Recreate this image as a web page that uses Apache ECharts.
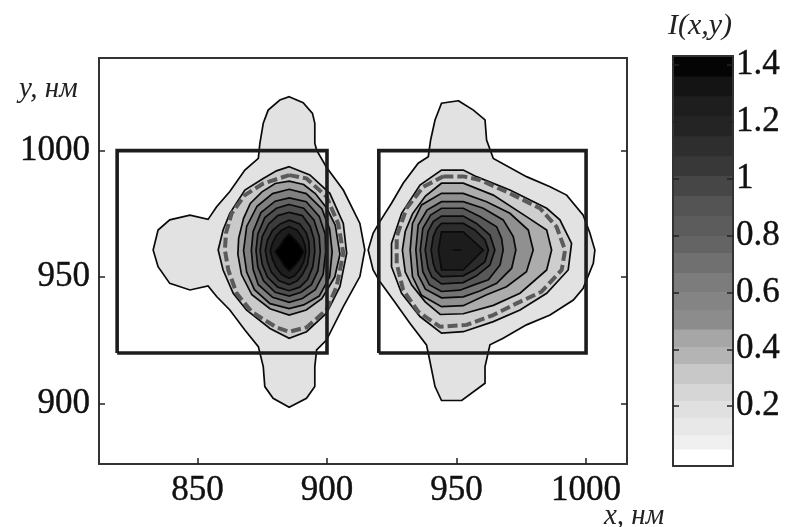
<!DOCTYPE html>
<html><head><meta charset="utf-8">
<style>html,body{margin:0;padding:0;background:#fff}#c{width:785px;height:527px}</style>
<script src="https://cdn.jsdelivr.net/npm/echarts@6/dist/echarts.min.js"></script>
</head><body><div id="c"></div>
<script>
const xTicks=[850,900,950,1000];
const yTicks=[900,950,1000];
const barTicks=[0.2,0.4,0.6,0.8,1,1.2,1.4];
const rectLeft=[[819,920],[900,920],[900,1000],[819,1000],[819,920]];
const rectRight=[[920,920],[1000,920],[1000,1000],[920,1000],[920,920]];

const leftOuter=[[885.4,1021.3],[890.8,1018.9],[894.4,1014.7],[895.3,1010.8],[895.3,1002.9],[896,1000.2],[899.8,993.4],[906.3,984.4],[912.7,971.2],[914.6,960.7],[912.7,950.2],[906.3,938.3],[899.8,925.1],[896,921.2],[895.3,914.6],[895.3,906.7],[892.1,902.1],[885.4,898.5],[879.2,902.1],[876,906.7],[875.4,914.6],[873.5,922.5],[868.3,929.1],[862.5,937],[857.4,942.3],[854.1,946.5],[847.1,944.9],[839.3,947.5],[834.8,954.1],[832.9,960.7],[834.8,968.6],[839.3,972.6],[847.1,974.5],[854.1,972.8],[857.4,977.8],[862.5,983.8],[868.3,992.3],[873.5,996.9],[874.1,1002.9],[875.4,1010.8],[877.3,1016],[881.8,1020]];
const leftA=[[885.4,993.6],[893.4,990.4],[901.1,983.1],[906.3,971.2],[907.6,959.4],[905,946.2],[899.8,935.7],[892.1,928.4],[885.4,925.8],[878,929.7],[868.9,937],[863.8,943.6],[859.9,952.8],[858,960.7],[859.9,968.6],[862.5,975.2],[868.3,984.4],[875.4,989],[880.5,992]];
const leftDash=[[885.4,990.3],[892.1,989],[899.8,981.8],[904.3,971.2],[906.3,959.4],[903.7,946.2],[899.8,937],[892.1,930.1],[885.4,928.4],[880.5,930.1],[870.9,936.3],[865.1,943.6],[861.9,952.8],[860.6,960.7],[861,967.3],[863.2,975.2],[868.3,982.4],[875.4,987]];
const left1=[[885.4,987.9],[891,986.6],[895.5,983],[900,977.1],[903.2,970.5],[905,959],[903,950],[898,941.5],[892,937],[885.4,935],[878,937.5],[871,943],[867,951],[865.6,959],[865.9,965.3],[867.8,973.2],[870.4,979.1],[874.9,983.7],[880,987]];
const left2=[[885.4,984.7],[892,983],[898,977],[901,969],[902,960],[901,950],[897,942.5],[891,939],[885.4,937.5],[878,939.5],[872,945],[869,952],[867.8,960.5],[869,970],[873,978],[879,983]];
const left3=[[885.4,981.3],[892,979.8],[897,974],[899.3,967],[899.5,960],[898.5,951],[895.5,945],[890.5,941.5],[885.4,940],[879,942],[873.5,947],[871.5,953],[870.8,960.5],[871.5,968],[874.5,975.5],[880,980]];
const left4=[[885.4,978.7],[891,977.2],[895,972.5],[897,966],[897.4,960],[896.5,952.5],[894,947],[890,944],[885.4,942.5],[880,944],[875.5,948.5],[873.3,954],[872.6,960.5],[873.3,967],[876,973.5],[880.5,977.2]];
const left5=[[885.4,975.6],[890.5,974.3],[893.5,970],[895,965],[895.3,960],[894.5,954],[892.5,949],[889.5,946],[885.4,944.6],[881,946],[877,950],[875,955],[874.2,960.5],[875,966],[877.5,971],[881,974.3]];
const left6=[[885.4,972.5],[889.5,971],[892,967.5],[893,964],[893.2,960],[892.5,955],[890.5,951],[888.5,948.5],[885.4,947],[881.5,948.5],[878.5,952],[877,956],[876.2,960.5],[877,964.5],[879,968.5],[882,971]];
const left7=[[885.4,970],[888.5,968.5],[890.5,965.5],[891.5,962.5],[891.8,960],[891,956],[889.5,953],[887.5,950.5],[885.4,949.5],[882.5,951],[880.3,954],[879,957],[878.1,960.5],[879,963.5],[880.5,966.5],[882.5,968.5]];
const left8=[[885.4,967],[887.5,965],[889.5,962.5],[891,960],[889.5,957],[887.5,954.5],[885.4,952.5],[883.5,954.5],[882,957],[880,960],[882,962.5],[883.5,965]];

const rightOuter=[[950.7,1019.7],[944.2,1018.7],[941.7,1012.1],[940,1004.2],[939.1,997.6],[935.2,995],[929.4,987.1],[924.9,979.2],[920.4,971.9],[917.8,967.3],[915.9,960.7],[917.8,952.8],[920.4,948.2],[925.6,940.9],[932,931.7],[938.4,923.2],[939.1,919.9],[941.7,906.7],[944.2,901.2],[952,901.2],[961,908],[961,914.6],[962.9,923.2],[968,925.8],[977,931.1],[986.1,935],[995.1,940.9],[998.9,945.6],[1002.8,955.4],[1003.4,960.7],[1001.5,967.3],[998.9,974.5],[992.5,982.4],[986.1,985.7],[977,989.7],[964.2,996.9],[961.6,1004.2],[961,1012.1],[956.5,1016]];
const rightA=[[944.2,992.3],[952.6,992.3],[957.7,989.7],[970.6,984.4],[984.8,977.2],[989.9,972.6],[994.4,963.3],[993.1,952.8],[984.8,943.6],[974.5,937],[964.2,932.4],[952.6,928.4],[944.2,927.8],[935.9,934.4],[928.8,943.6],[924.9,954.1],[924.9,963.3],[928.8,975.2],[935.9,986.4]];
const rightDash=[[944.9,989.8],[952.6,989.8],[959,988.4],[970.6,983.1],[982.2,977.2],[988.6,969.9],[991.9,960.7],[990.6,952.8],[982.8,944.2],[973.2,939.6],[964.2,935],[953.9,931.1],[943.6,930.4],[935.2,936.3],[929.4,944.9],[926.9,955.4],[926.9,966],[930.7,977.2],[937.2,985.7]];
const right1=[[944.2,987.1],[952.6,987.1],[964.2,982.4],[977,973.9],[984.8,968.6],[986.7,960.7],[984.8,952.8],[974.5,943.6],[964.2,938.8],[952.6,935.5],[943.7,935.2],[937.9,940.2],[932.7,946.8],[930.2,952],[929.1,960.7],[930.2,968],[933,975],[938,982]];
const right2=[[944.2,983.1],[952.6,983.1],[961.6,979.8],[970.6,975.2],[977.7,968.6],[979.6,960.7],[977,952.1],[969.3,946.2],[961.6,943],[952.6,938.7],[944.2,938.3],[936.5,942.8],[933,950.2],[932.1,960.7],[933,971.2],[936.5,978.5]];
const right3=[[944.2,979.8],[952.6,979.8],[960.3,977.2],[968,972.6],[971.9,966],[972.9,960.7],[971.3,953.5],[965.5,947.5],[959,944.5],[952.6,942.2],[944.2,941.8],[938,945.2],[935.2,950.8],[934.3,960.7],[935.2,970.6],[938.6,976.5]];
const right4=[[944.2,977.2],[952.6,977.2],[959,973.9],[965.5,969.9],[967.4,965.3],[968,960.7],[966.8,954.8],[962.3,948.9],[956.5,946.8],[951.3,944.8],[944.2,944.3],[939.5,947],[937,952.1],[936,960.7],[937,969.3],[940,974.5]];
const right5=[[944.2,974.1],[952.6,974.1],[957.7,971.2],[962.9,966.6],[964.8,960.7],[962.9,954.8],[957.7,950.5],[952.6,947.8],[944.2,947.3],[940.5,950],[939,953.5],[937.9,960.7],[939,968],[941,971.9]];
const right6=[[944.2,971.2],[952.6,971.2],[957.1,968.6],[961,964.7],[962.3,960.7],[961,956.1],[957.1,953],[952.6,950.5],[944.2,950.2],[942,952.5],[941,955.4],[940.2,960.7],[941,966],[942.4,969.3]];
const right7=[[944.2,967.9],[952.6,967.9],[960.3,960.7],[952.6,952.8],[944.2,952.8],[943,960.7]];
const rightTick=[[948.5,960.7],[952,960.7]];

const contours=[leftOuter,leftA,left1,left2,left3,left4,left5,left6,left7,left8,rightOuter,rightA,right1,right2,right3,right4,right5,right6,right7];
const contourGrays=[226,202,160,128,100,78,60,44,30,0,226,206,172,144,116,88,64,44,28];
const dashedContours=[leftDash,rightDash];

const barEdges=[-0.01,0.05,0.1,0.16,0.22,0.28,0.35,0.41,0.47,0.54,0.6,0.67,0.74,0.8,0.87,0.94,1.01,1.08,1.15,1.22,1.29,1.36,1.43];
const barGrays=[255,240,232,224,214,200,180,166,140,132,124,112,100,92,84,70,56,46,36,30,20,4];

const gray=g=>`rgb(${g},${g},${g})`;
const axisLine={show:true,onZero:false,lineStyle:{color:'#333',width:2}};
const tick=(vals,inside=true)=>({show:true,inside,length:6,customValues:vals,lineStyle:{color:'#222',width:1.5}});
const labelFont={fontFamily:'Liberation Serif',fontSize:35,color:'#111',textBorderColor:'#111',textBorderWidth:0.4,formatter:v=>String(v)};

const option={
 animation:false,
 backgroundColor:'#fff',
 grid:[
  {left:99,top:58,width:528,height:406,show:false},
  {left:673,top:56,width:60,height:410,show:false}
 ],
 xAxis:[
  {gridIndex:0,type:'value',min:812,max:1015.8,splitLine:{show:false},axisLine,axisTick:tick(xTicks),axisLabel:{...labelFont,margin:9,customValues:xTicks}},
  {gridIndex:0,type:'value',position:'top',min:812,max:1015.8,splitLine:{show:false},axisLine,axisTick:{show:false},axisLabel:{show:false}},
  {gridIndex:1,type:'value',z:10,min:0,max:1,splitLine:{show:false},axisLine,axisTick:{show:false},axisLabel:{show:false}},
  {gridIndex:1,type:'value',z:10,position:'top',min:0,max:1,splitLine:{show:false},axisLine,axisTick:{show:false},axisLabel:{show:false}}
 ],
 yAxis:[
  {gridIndex:0,type:'value',min:876.1,max:1036.6,splitLine:{show:false},axisLine,axisTick:tick(yTicks),axisLabel:{...labelFont,margin:9,customValues:yTicks}},
  {gridIndex:0,type:'value',position:'right',min:876.1,max:1036.6,splitLine:{show:false},axisLine,axisTick:tick(yTicks),axisLabel:{show:false}},
  {gridIndex:1,type:'value',z:10,position:'right',min:-0.01,max:1.43,splitLine:{show:false},axisLine,axisTick:tick(barTicks),axisLabel:{...labelFont,margin:3,customValues:barTicks}},
  {gridIndex:1,type:'value',z:10,position:'left',min:-0.01,max:1.43,splitLine:{show:false},axisLine,axisTick:tick(barTicks),axisLabel:{show:false}}
 ],
 graphic:[
  {type:'text',left:19,top:75,style:{text:'y, нм',font:'italic 29px "Liberation Serif"',fill:'#222'}},
  {type:'text',left:604,top:502,style:{text:'x, нм',font:'italic 29px "Liberation Serif"',fill:'#222'}},
  {type:'text',left:668,top:11,style:{text:'I(x,y)',font:'italic 30px "Liberation Serif"',fill:'#222'}}
 ],
 series:[
  {type:'custom',xAxisIndex:0,yAxisIndex:0,silent:true,clip:false,z:2,
   data:contours.map((c,i)=>[i]),
   renderItem:(p,api)=>{const i=api.value(0);
     return {type:'polygon',shape:{points:contours[i].map(q=>api.coord(q))},
       style:{fill:gray(contourGrays[i]),stroke:'#0a0a0a',lineWidth:1.7}};}},
  ...dashedContours.map(d=>({type:'line',xAxisIndex:0,yAxisIndex:0,silent:true,z:3,showSymbol:false,
     data:d.concat([d[0]]),lineStyle:{color:'#5a5a5a',width:4,type:[10,4]}})),
  {type:'line',xAxisIndex:0,yAxisIndex:0,silent:true,z:4,showSymbol:false,data:rightTick,lineStyle:{color:'#000',width:1.2}},
  {type:'line',xAxisIndex:0,yAxisIndex:0,silent:true,z:5,showSymbol:false,data:rectLeft,lineStyle:{color:'#1c1c1c',width:3.6,join:'miter'}},
  {type:'line',xAxisIndex:0,yAxisIndex:0,silent:true,z:5,showSymbol:false,data:rectRight,lineStyle:{color:'#1c1c1c',width:3.6,join:'miter'}},
  {type:'custom',xAxisIndex:2,yAxisIndex:2,silent:true,z:1,
   data:barGrays.map((g,i)=>[i]),
   renderItem:(p,api)=>{const i=api.value(0);
     const a=api.coord([0,barEdges[i]]),b=api.coord([1,barEdges[i+1]]);
     return {type:'rect',shape:{x:a[0],y:b[1],width:b[0]-a[0],height:a[1]-b[1]+0.5},style:{fill:gray(barGrays[i])}};}}
 ]
};
const chart=echarts.init(document.getElementById('c'),null,{renderer:'canvas'});
chart.setOption(option);
</script></body></html>
